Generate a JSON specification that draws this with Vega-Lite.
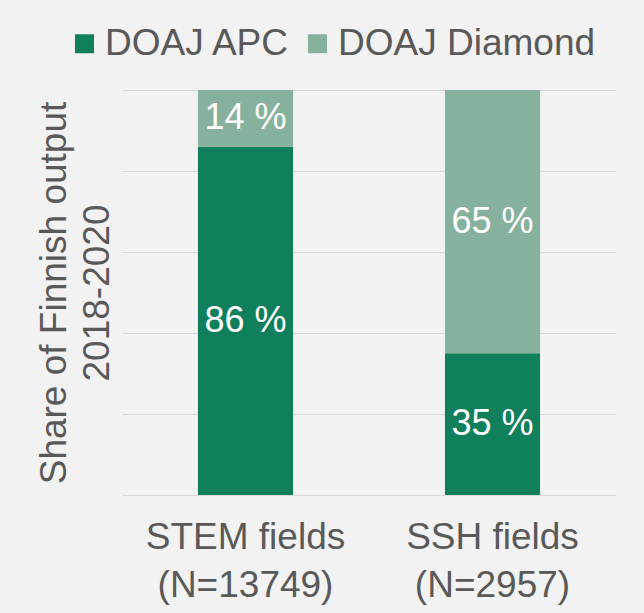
{
  "$schema": "https://vega.github.io/schema/vega-lite/v6.json",
  "width": 494,
  "height": 405,
  "autosize": {"type": "none"},
  "padding": {"left": 122, "top": 90, "right": 28, "bottom": 118},
  "background": "#f2f2f2",
  "config": {
    "font": "Liberation Sans",
    "view": {"stroke": null}
  },
  "data": {
    "values": [
      {"field": "STEM fields|(N=13749)", "type": "DOAJ APC", "share": 86, "label": "86 %"},
      {"field": "STEM fields|(N=13749)", "type": "DOAJ Diamond", "share": 14, "label": "14 %"},
      {"field": "SSH fields|(N=2957)", "type": "DOAJ APC", "share": 35, "label": "35 %"},
      {"field": "SSH fields|(N=2957)", "type": "DOAJ Diamond", "share": 65, "label": "65 %"}
    ]
  },
  "encoding": {
    "x": {
      "field": "field",
      "type": "nominal",
      "sort": null,
      "scale": {"paddingInner": 0.615, "paddingOuter": 0.3075},
      "axis": {
        "title": null,
        "labelAngle": 0,
        "labelExpr": "split(datum.label, '|')",
        "labelFontSize": 37,
        "labelColor": "#595959",
        "labelLineHeight": 48,
        "labelPadding": 24,
        "ticks": false,
        "domain": false,
        "labelLimit": 400
      }
    },
    "y": {
      "field": "share",
      "type": "quantitative",
      "stack": "zero",
      "scale": {"domain": [0, 100]},
      "axis": {
        "title": ["Share of Finnish output", "2018-2020"],
        "titleFontSize": 37,
        "titleFontWeight": "normal",
        "titleColor": "#595959",
        "titleLineHeight": 43,
        "titlePadding": 6,
        "labels": false,
        "ticks": false,
        "domain": false,
        "values": [0, 20, 40, 60, 80, 100],
        "gridColor": "#d9d9d9",
        "gridWidth": 1.2
      }
    }
  },
  "layer": [
    {
      "mark": {"type": "bar"},
      "encoding": {
        "color": {
          "field": "type",
          "type": "nominal",
          "scale": {"domain": ["DOAJ APC", "DOAJ Diamond"], "range": ["#107f5c", "#86b19c"]},
          "legend": {
            "title": null,
            "orient": "none",
            "direction": "horizontal",
            "legendX": -56,
            "legendY": -65,
            "padding": 0,
            "symbolType": "square",
            "symbolSize": 361,
            "symbolStrokeWidth": 0,
            "symbolOpacity": 1,
            "labelFontSize": 37,
            "labelColor": "#595959",
            "labelOffset": 2,
            "columnPadding": 8,
            "labelLimit": 400
          }
        },
        "order": {"field": "type", "sort": "ascending"}
      }
    },
    {
      "mark": {"type": "text", "color": "white", "fontSize": 36, "baseline": "middle"},
      "encoding": {
        "y": {"field": "share", "type": "quantitative", "stack": "zero", "bandPosition": 0.5},
        "text": {"field": "label"},
        "order": {"field": "type", "sort": "ascending"}
      }
    }
  ]
}
